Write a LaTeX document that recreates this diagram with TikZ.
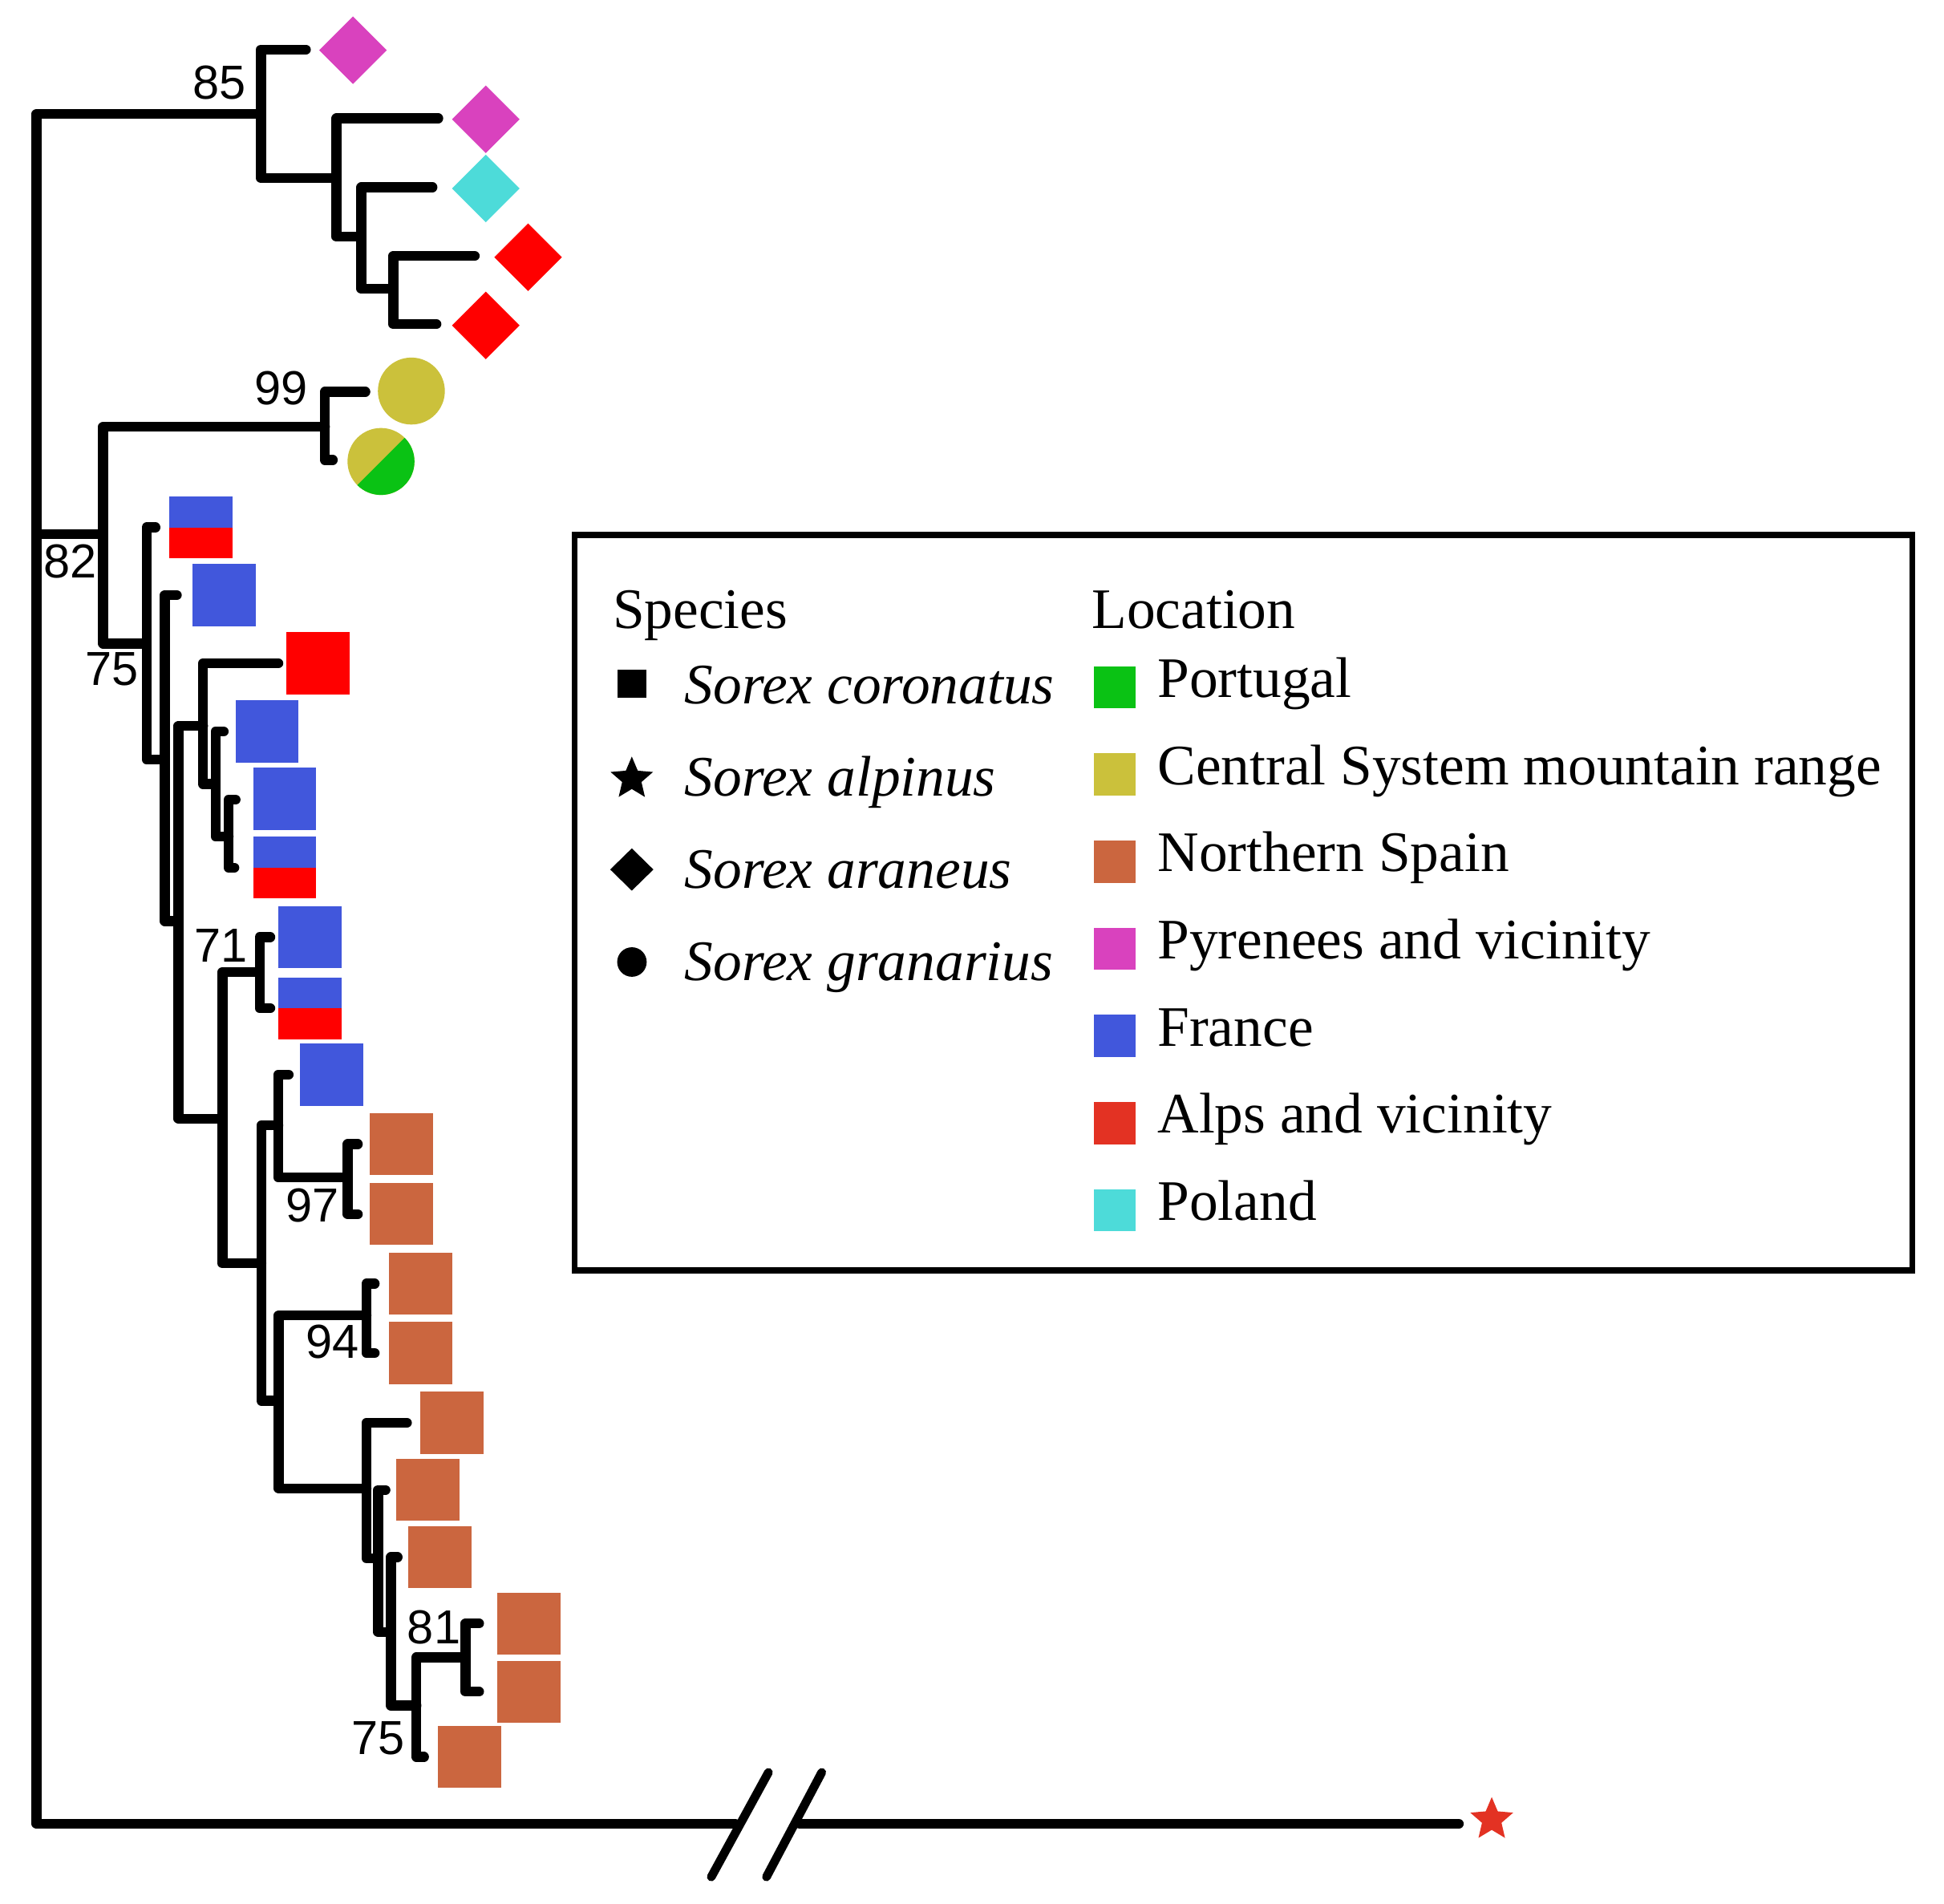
\documentclass[tikz,border=0pt]{standalone}
\usepackage{fontspec}
\usetikzlibrary{shapes.geometric}
\newfontfamily\legserif{Liberation Serif}
\newfontfamily\numsans{Liberation Sans}
\newcommand\legfont{\legserif\fontsize{46.2}{55}\selectfont}
\newcommand\numfont{\numsans\fontsize{38.5}{46}\selectfont}
\definecolor{pmag}{RGB}{217,66,190}
\definecolor{pcyan}{RGB}{77,219,217}
\definecolor{pred}{RGB}{255,0,0}
\definecolor{polive}{RGB}{203,193,59}
\definecolor{pgreen}{RGB}{10,194,20}
\definecolor{pblue}{RGB}{65,87,220}
\definecolor{pbrown}{RGB}{203,102,63}
\definecolor{pstar}{RGB}{227,50,35}
\tikzset{
  branch/.style={line width=8pt, line cap=round, line join=round},
  leafbox/.style={rectangle, minimum width=51pt, minimum height=50pt, inner sep=0pt, outer sep=0pt},
  leafdia/.style={diamond, minimum width=54.5pt, minimum height=54.5pt, inner sep=0pt, outer sep=0pt},
  leafdot/.style={circle, minimum size=54pt, inner sep=0pt, outer sep=0pt},
  starmark/.style={star, star points=5, star point ratio=2.2, inner sep=0pt, outer sep=0pt},
  bootlab/.style={font=\numfont, inner sep=0pt},
  legtext/.style={font=\legfont, anchor=base west, inner sep=0pt},
  legital/.style={font=\legfont\itshape, anchor=base west, inner sep=0pt},
  swatch/.style={rectangle, minimum width=33.6pt, minimum height=34pt, inner sep=0pt, outer sep=0pt},
}
\begin{document}
\begin{tikzpicture}[x=1pt,y=1pt]
\useasboundingbox (0,0) rectangle (1568,-1535.6);

% ---------- internal nodes ----------
\coordinate (R) at (29.5,-431);
\coordinate (nA) at (210.5,-92);
\coordinate (nA2) at (271.4,-143.6);
\coordinate (nA3) at (291.5,-191);
\coordinate (nA4) at (317.2,-233);
\coordinate (nB) at (83.2,-431);
\coordinate (nG) at (262.1,-344.3);
\coordinate (nC) at (118.2,-519);
\coordinate (nD) at (133,-612.5);
\coordinate (nE) at (144,-743);
\coordinate (nF) at (163.8,-585.5);
\coordinate (nF2) at (173.8,-632.4);
\coordinate (nF3) at (184.4,-674.6);
\coordinate (nH) at (179.4,-902.2);
\coordinate (n71) at (209.4,-784);
\coordinate (nI) at (210.8,-1019);
\coordinate (nJ) at (224.5,-907.7);
\coordinate (n97) at (280.5,-949.7);
\coordinate (nK) at (224.8,-1129.7);
\coordinate (n94) at (295.6,-1061);
\coordinate (nL) at (295.6,-1200.4);
\coordinate (nM) at (305,-1256.8);
\coordinate (nN) at (315.3,-1316.2);
\coordinate (n75b) at (335.9,-1375.6);
\coordinate (n81) at (375.5,-1336.7);

% ---------- tip ends ----------
\coordinate (ta1) at (246.7,-40);
\coordinate (ta2) at (353.5,-95.5);
\coordinate (ta3) at (348.8,-151);
\coordinate (ta4) at (382.9,-206.5);
\coordinate (ta5) at (352,-261.5);
\coordinate (tg1) at (294.7,-316);
\coordinate (tg2) at (268.4,-371);
\coordinate (tc1) at (125.4,-425.4);
\coordinate (td1) at (142.6,-480);
\coordinate (tf1) at (224.5,-535);
\coordinate (tf2) at (180.4,-590);
\coordinate (tf3) at (190,-645);
\coordinate (tf4) at (189,-699.7);
\coordinate (t71a) at (218,-755.8);
\coordinate (t71b) at (218,-813.2);
\coordinate (tj1) at (232.8,-866.8);
\coordinate (t97a) at (288.6,-922.8);
\coordinate (t97b) at (288.6,-979.2);
\coordinate (t94a) at (302.2,-1035.3);
\coordinate (t94b) at (302.2,-1091.3);
\coordinate (tl1) at (328.2,-1147.5);
\coordinate (tm1) at (310.9,-1201.7);
\coordinate (tn1) at (320.7,-1255.9);
\coordinate (t81a) at (386.4,-1309.4);
\coordinate (t81b) at (386.4,-1364.4);
\coordinate (t75) at (342,-1417);
\coordinate (brkL) at (593,-1471);
\coordinate (brkR) at (645,-1471);
\coordinate (talp) at (1176.6,-1471);

% ---------- branches ----------
\draw[branch] (R) |- (nA);
\draw[branch] (R) |- (nB);
\draw[branch] (R) |- (brkL);
\draw[branch] (brkR) -- (talp);
\draw[branch] (nA) |- (ta1);
\draw[branch] (nA) |- (nA2);
\draw[branch] (nA2) |- (ta2);
\draw[branch] (nA2) |- (nA3);
\draw[branch] (nA3) |- (ta3);
\draw[branch] (nA3) |- (nA4);
\draw[branch] (nA4) |- (ta4);
\draw[branch] (nA4) |- (ta5);
\draw[branch] (nB) |- (nG);
\draw[branch] (nB) |- (nC);
\draw[branch] (nG) |- (tg1);
\draw[branch] (nG) |- (tg2);
\draw[branch] (nC) |- (tc1);
\draw[branch] (nC) |- (nD);
\draw[branch] (nD) |- (td1);
\draw[branch] (nD) |- (nE);
\draw[branch] (nE) |- (nF);
\draw[branch] (nE) |- (nH);
\draw[branch] (nF) |- (tf1);
\draw[branch] (nF) |- (nF2);
\draw[branch] (nF2) |- (tf2);
\draw[branch] (nF2) |- (nF3);
\draw[branch] (nF3) |- (tf3);
\draw[branch] (nF3) |- (tf4);
\draw[branch] (nH) |- (n71);
\draw[branch] (nH) |- (nI);
\draw[branch] (n71) |- (t71a);
\draw[branch] (n71) |- (t71b);
\draw[branch] (nI) |- (nJ);
\draw[branch] (nI) |- (nK);
\draw[branch] (nJ) |- (tj1);
\draw[branch] (nJ) |- (n97);
\draw[branch] (n97) |- (t97a);
\draw[branch] (n97) |- (t97b);
\draw[branch] (nK) |- (n94);
\draw[branch] (nK) |- (nL);
\draw[branch] (n94) |- (t94a);
\draw[branch] (n94) |- (t94b);
\draw[branch] (nL) |- (tl1);
\draw[branch] (nL) |- (nM);
\draw[branch] (nM) |- (tm1);
\draw[branch] (nM) |- (nN);
\draw[branch] (nN) |- (tn1);
\draw[branch] (nN) |- (n75b);
\draw[branch] (n75b) |- (n81);
\draw[branch] (n75b) |- (t75);
\draw[branch] (n81) |- (t81a);
\draw[branch] (n81) |- (t81b);

% axis break
\coordinate (s1a) at (619.8,-1429.5);
\coordinate (s1b) at (573.7,-1513.8);
\coordinate (s2a) at (662.8,-1429.5);
\coordinate (s2b) at (618.2,-1513.8);
\draw[line width=7pt, line cap=round] (s1a) -- (s1b);
\draw[line width=7pt, line cap=round] (s2a) -- (s2b);

% ---------- leaves ----------
\node[leafdia, fill=pmag] (d1) at (284.7,-40.5) {};
\node[leafdia, fill=pmag] (d2) at (391.8,-96.2) {};
\node[leafdia, fill=pcyan] (d3) at (391.8,-152) {};
\node[leafdia, fill=pred] (d4) at (425.9,-207.5) {};
\node[leafdia, fill=pred] (d5) at (391.8,-262.5) {};

\node[leafdot, fill=polive] (c1) at (331.8,-315.4) {};
\node[leafdot, fill=polive] (c2) at (307.3,-372.2) {};
\fill[pgreen] (c2.45) arc[start angle=45, end angle=-135, radius=27pt] -- cycle;

\node[leafbox, fill=pblue] (bx1) at (162,-425.4) {};
\fill[pred] (bx1.west) rectangle (bx1.south east);
\node[leafbox, fill=pblue] (bx2) at (180.8,-480) {};
\node[leafbox, fill=pred] (bx3) at (256.5,-535) {};
\node[leafbox, fill=pblue] (bx4) at (215.4,-590) {};
\node[leafbox, fill=pblue] (bx5) at (229.6,-644.2) {};
\node[leafbox, fill=pblue] (bx6) at (229.6,-699.7) {};
\fill[pred] (bx6.west) rectangle (bx6.south east);
\node[leafbox, fill=pblue] (bx7) at (250,-755.8) {};
\node[leafbox, fill=pblue] (bx8) at (250,-813.2) {};
\fill[pred] (bx8.west) rectangle (bx8.south east);
\node[leafbox, fill=pblue] (bx9) at (267.4,-866.8) {};
\node[leafbox, fill=pbrown] (bx10) at (324,-922.8) {};
\node[leafbox, fill=pbrown] (bx11) at (324,-979.2) {};
\node[leafbox, fill=pbrown] (bx12) at (339.3,-1035.3) {};
\node[leafbox, fill=pbrown] (bx13) at (339.3,-1091.3) {};
\node[leafbox, fill=pbrown] (bx14) at (364.5,-1147.5) {};
\node[leafbox, fill=pbrown] (bx15) at (345.2,-1201.7) {};
\node[leafbox, fill=pbrown] (bx16) at (354.9,-1255.9) {};
\node[leafbox, fill=pbrown] (bx17) at (426.7,-1309.4) {};
\node[leafbox, fill=pbrown] (bx18) at (426.7,-1364.4) {};
\node[leafbox, fill=pbrown] (bx19) at (379,-1417) {};

\node[starmark, minimum size=36.4pt, fill=pstar] (salp) at (1203.2,-1467.6) {};

% ---------- support values ----------
\node[bootlab] (l85) at (177.2,-66.4) {85};
\node[bootlab] (l99) at (226.7,-313.4) {99};
\node[bootlab] (l82) at (56.6,-453) {82};
\node[bootlab] (l75a) at (90,-540) {75};
\node[bootlab] (l71) at (178.5,-762.5) {71};
\node[bootlab] (l97) at (252,-972) {97};
\node[bootlab] (l94) at (268,-1082) {94};
\node[bootlab] (l81) at (350,-1312.5) {81};
\node[bootlab] (l75b) at (305,-1402) {75};

% ---------- legend ----------
\node[draw, line width=5pt, minimum width=1079pt, minimum height=593pt, inner sep=0pt] (legend) at (1003,-728) {};
\node[legtext] (hsp) at (494,-506.7) {Species};
\node[legtext] (hloc) at (880.5,-506.7) {Location};

\node[rectangle, minimum size=23pt, inner sep=0pt, fill=black] (ksq) at (509.7,-551.4) {};
\node[starmark, minimum size=36pt, fill=black] (kst) at (509.6,-628.2) {};
\node[diamond, minimum width=35pt, minimum height=34.3pt, inner sep=0pt, fill=black] (kdi) at (509.6,-701.3) {};
\node[circle, minimum size=23.8pt, inner sep=0pt, fill=black] (kci) at (509.7,-775.9) {};
\node[legital] (tsq) at (552,-567.5) {Sorex coronatus};
\node[legital] (tst) at (552,-642) {Sorex alpinus};
\node[legital] (tdi) at (552,-716.5) {Sorex araneus};
\node[legital] (tci) at (552,-791) {Sorex granarius};

\node[swatch, fill=pgreen] (w1) at (899,-554.3) {};
\node[swatch, fill=polive] (w2) at (899,-624.6) {};
\node[swatch, fill=pbrown] (w3) at (899,-694.9) {};
\node[swatch, fill=pmag] (w4) at (899,-765.2) {};
\node[swatch, fill=pblue] (w5) at (899,-835.5) {};
\node[swatch, fill=pstar] (w6) at (899,-905.8) {};
\node[swatch, fill=pcyan] (w7) at (899,-976.1) {};
\node[legtext] (x1) at (933.5,-562.4) {Portugal};
\node[legtext] (x2) at (933.5,-632.7) {Central System mountain range};
\node[legtext] (x3) at (933.5,-703) {Northern Spain};
\node[legtext] (x4) at (933.5,-773.3) {Pyrenees and vicinity};
\node[legtext] (x5) at (933.5,-843.6) {France};
\node[legtext] (x6) at (933.5,-913.9) {Alps and vicinity};
\node[legtext] (x7) at (933.5,-984.2) {Poland};
\end{tikzpicture}
\end{document}
